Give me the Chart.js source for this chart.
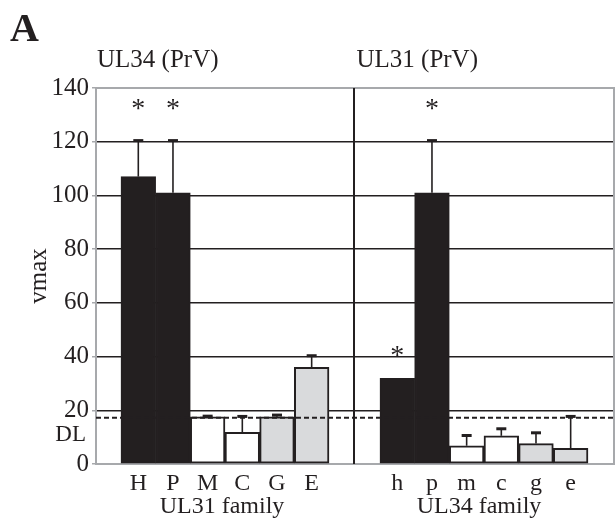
<!DOCTYPE html>
<html>
<head>
<meta charset="utf-8">
<script src="https://cdn.jsdelivr.net/npm/chart.js@4.4.0/dist/chart.umd.min.js"></script>
<style>
  html, body { margin: 0; padding: 0; background: #fff; }
  #wrap { width: 616px; height: 522px; }
</style>
</head>
<body>
<div id="wrap"><canvas id="chart"></canvas></div>
<script>
// UL34 (PrV) tested against the UL31 family
var leftLabels = ['H', 'P', 'M', 'C', 'G', 'E'];
var leftValues = [107, 101, 17.6, 11.8, 17.6, 36.0];
var leftErrors = [13.6, 19.6, 0.4, 6.1, 0.8, 4.5];
var leftStars = [134, 134, null, null, null, null];

// UL31 (PrV) tested against the UL34 family
var rightLabels = ['h', 'p', 'm', 'c', 'g', 'e'];
var rightValues = [31.9, 101, 6.8, 10.5, 7.6, 5.8];
var rightErrors = [0, 19.6, 4.0, 2.8, 4.2, 12.1];
var rightStars = [42, 134, null, null, null, null];

var groupTitles = ['UL34 (PrV)', 'UL31 (PrV)'];
var familyLabels = ['UL31 family', 'UL34 family'];
var yTicks = [0, 20, 40, 60, 80, 100, 120, 140];
var detectionLimit = 17.2;
var dlLabelValue = 10.8;

// look
var ink = '#231f20';
var frame = '#a7a9ac';
var fills = ['#231f20', '#231f20', '#ffffff', '#ffffff', '#d9dadc', '#d9dadc'];
var serif = "'Liberation Serif', 'DejaVu Serif', serif";
var groupGap = 1.47;   // empty room between the two groups, in bar widths

Chart.defaults.font.family = serif;
Chart.defaults.color = ink;

var groups = [
  {labels: leftLabels, values: leftValues, errors: leftErrors, stars: leftStars},
  {labels: rightLabels, values: rightValues, errors: rightErrors, stars: rightStars}
];

var points = [], bgs = [], tickPos = [], tickText = {};
groups.forEach(function (g, gi) {
  g.labels.forEach(function (lab, i) {
    var x = i + gi * (g.labels.length + groupGap);
    points.push({x: x, y: g.values[i], err: g.errors[i], star: g.stars[i]});
    bgs.push(fills[i]);
    tickPos.push(x);
    tickText[x] = lab;
  });
});
var n = leftLabels.length;
var dividerX = (n - 0.5 + n - 0.5 + groupGap) / 2;

var decorations = {
  id: 'decorations',
  beforeDatasetsDraw: function (chart) {
    var ctx = chart.ctx, a = chart.chartArea;
    var xs = chart.scales.x;
    ctx.save();
    ctx.strokeStyle = frame;
    ctx.lineWidth = 2;
    ctx.strokeRect(a.left, a.top, a.right - a.left, a.bottom - a.top);
    ctx.strokeStyle = ink;
    ctx.lineWidth = 2;
    var dx = Math.round(xs.getPixelForValue(dividerX));
    ctx.beginPath();
    ctx.moveTo(dx, a.top);
    ctx.lineTo(dx, a.bottom);
    ctx.stroke();
    ctx.restore();
  },
  afterDatasetsDraw: function (chart) {
    var ctx = chart.ctx, a = chart.chartArea;
    var xs = chart.scales.x, ys = chart.scales.y;
    ctx.save();
    // error bars
    points.forEach(function (p) {
      if (!p.err) return;
      var cx = xs.getPixelForValue(p.x);
      var y0 = ys.getPixelForValue(p.y);
      var y1 = ys.getPixelForValue(p.y + p.err);
      ctx.strokeStyle = ink;
      ctx.lineWidth = 1.6;
      ctx.beginPath();
      ctx.moveTo(cx, y0);
      ctx.lineTo(cx, y1);
      ctx.stroke();
      ctx.lineWidth = 3;
      ctx.beginPath();
      ctx.moveTo(cx - 5, y1 + 0.5);
      ctx.lineTo(cx + 5, y1 + 0.5);
      ctx.stroke();
    });
    // detection limit
    var dly = ys.getPixelForValue(detectionLimit);
    ctx.setLineDash([5, 3]);
    ctx.lineWidth = 2;
    ctx.strokeStyle = ink;
    ctx.beginPath();
    ctx.moveTo(a.left, dly);
    ctx.lineTo(a.right, dly);
    ctx.stroke();
    ctx.setLineDash([]);
    // significance stars
    ctx.fillStyle = ink;
    ctx.font = '28px ' + serif;
    ctx.textAlign = 'center';
    ctx.textBaseline = 'alphabetic';
    points.forEach(function (p) {
      if (p.star == null) return;
      ctx.fillText('*', xs.getPixelForValue(p.x), ys.getPixelForValue(p.star) + 13);
    });
    ctx.restore();
  },
  afterDraw: function (chart) {
    var ctx = chart.ctx, a = chart.chartArea;
    var xs = chart.scales.x, ys = chart.scales.y;
    ctx.save();
    ctx.fillStyle = ink;
    ctx.font = 'bold 40px ' + serif;
    ctx.textAlign = 'left';
    ctx.textBaseline = 'alphabetic';
    ctx.fillText('A', 10, 41);
    ctx.font = '25px ' + serif;
    ctx.fillText(groupTitles[0], a.left + 1, 67);
    ctx.fillText(groupTitles[1], xs.getPixelForValue(dividerX) + 2, 67);
    ctx.font = '24px ' + serif;
    ctx.textAlign = 'center';
    var c0 = xs.getPixelForValue((n - 1) / 2) - 3;
    var c1 = xs.getPixelForValue((n - 1) / 2 + n + groupGap) - 5;
    ctx.fillText(familyLabels[0], c0, 513);
    ctx.fillText(familyLabels[1], c1, 513);
    ctx.font = '23px ' + serif;
    ctx.textAlign = 'right';
    ctx.textBaseline = 'middle';
    ctx.fillText('DL', a.left - 10, ys.getPixelForValue(dlLabelValue));
    ctx.restore();
  }
};

new Chart(document.getElementById('chart'), {
  type: 'bar',
  data: {
    datasets: [{
      data: points,
      backgroundColor: bgs,
      borderColor: ink,
      borderWidth: 2,
      borderSkipped: false,
      barPercentage: 1,
      categoryPercentage: 1
    }]
  },
  options: {
    responsive: true,
    maintainAspectRatio: false,
    animation: false,
    layout: {padding: {top: 88, right: 2, left: 0, bottom: 0}},
    plugins: {legend: {display: false}, tooltip: {enabled: false}},
    scales: {
      x: {
        type: 'linear',
        offset: false,
        min: -1.22,
        max: 13.72,
        grid: {display: false, drawTicks: false},
        border: {display: false},
        ticks: {
          padding: 5,
          font: {size: 24},
          color: ink,
          callback: function (v) { return tickText[v] || ''; }
        },
        afterBuildTicks: function (scale) {
          scale.ticks = tickPos.map(function (v) { return {value: v}; });
        },
        afterFit: function (scale) { scale.height = 58; }
      },
      y: {
        min: 0,
        max: 140,
        afterBuildTicks: function (scale) {
          scale.ticks = yTicks.map(function (v) { return {value: v}; });
        },
        ticks: {font: {size: 25}, color: ink, padding: 3},
        grid: {
          color: function (c) {
            return (c.tick && (c.tick.value === 0 || c.tick.value === 140)) ? frame : ink;
          },
          lineWidth: 1.5,
          tickColor: frame,
          tickLength: 4
        },
        border: {color: frame, width: 2},
        title: {display: true, text: 'vmax', font: {size: 25}, color: ink, padding: {top: 24, bottom: 0}},
        afterFit: function (scale) { scale.width = 96; }
      }
    }
  },
  plugins: [decorations]
});
</script>
</body>
</html>
